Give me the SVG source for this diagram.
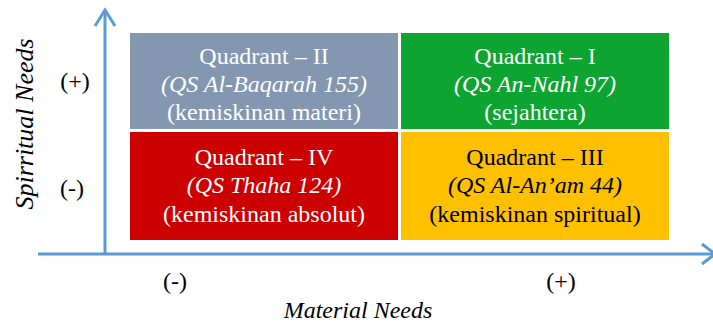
<svg xmlns="http://www.w3.org/2000/svg" width="713" height="325" viewBox="0 0 713 325">
<style>
text{font-family:'Liberation Serif',Tinos,'Times New Roman',serif;font-size:24px;text-anchor:middle}
.i{font-style:italic}
.w{fill:#ffffff}
.k{fill:#000000}
.ax{stroke:#5B9BD5;stroke-width:3;fill:none}
</style>
<rect width="713" height="325" fill="#ffffff"/>
<g id="connectors">
<line class="ax" x1="105" y1="10" x2="105" y2="255"/>
<polyline class="ax" points="95,26 105,10 115,26"/>
<line class="ax" x1="38" y1="254" x2="714" y2="254"/>
<polyline class="ax" points="702,244 715,254 702,264"/>
</g>
<g id="q2" font-family="Liberation Serif">
<rect x="130" y="33" width="268" height="96" fill="#8497B0"/>
<text class="w" x="264" y="64">Quadrant – II</text>
<text class="w i" x="264" y="92">(QS Al-Baqarah 155)</text>
<text class="w" x="264" y="120">(kemiskinan materi)</text>
</g>
<g id="q1" font-family="Liberation Serif">
<rect x="401" y="33" width="268" height="96" fill="#0EA432"/>
<text class="w" x="535" y="64">Quadrant – I</text>
<text class="w i" x="535" y="92">(QS An-Nahl 97)</text>
<text class="w" x="535" y="120">(sejahtera)</text>
</g>
<g id="q4" font-family="Liberation Serif">
<rect x="130" y="132" width="268" height="108" fill="#CC0000"/>
<text class="w" x="264" y="165">Quadrant – IV</text>
<text class="w i" x="264" y="193">(QS Thaha 124)</text>
<text class="w" x="264" y="222">(kemiskinan absolut)</text>
</g>
<g id="q3" font-family="Liberation Serif">
<rect x="401" y="132" width="268" height="108" fill="#FFC000"/>
<text class="k" x="535" y="165">Quadrant – III</text>
<text class="k i" x="535" y="193">(QS Al-An’am 44)</text>
<text class="k" x="535" y="222">(kemiskinan spiritual)</text>
</g>
<g id="labels" font-family="Liberation Serif">
<text class="k" x="75" y="89">(+)</text>
<text class="k" x="72" y="196">(-)</text>
<text class="k" x="175" y="289">(-)</text>
<text class="k" x="561" y="289">(+)</text>
<text class="k i" x="358" y="318">Material Needs</text>
<text class="k i" x="0" y="0" transform="translate(33,124) rotate(-90)" style="font-size:26px">Spirritual Needs</text>
</g>
</svg>
